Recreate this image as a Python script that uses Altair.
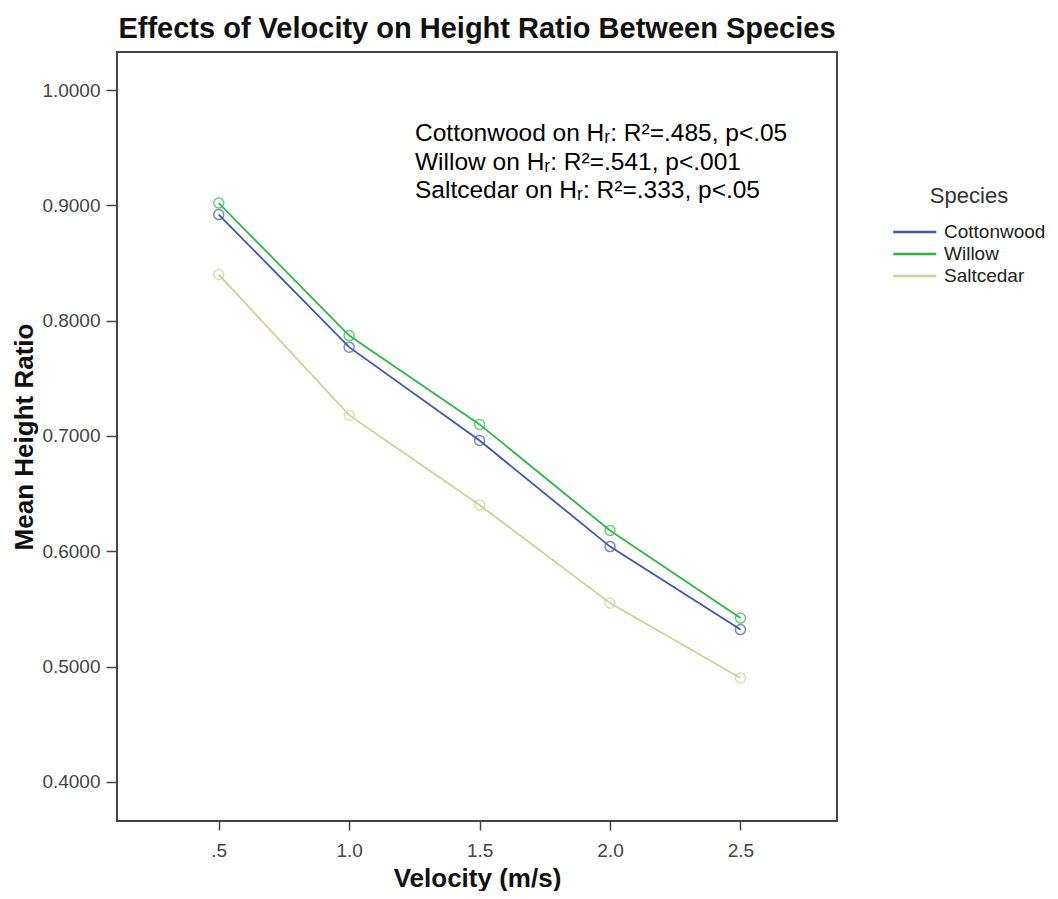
import altair as alt
import pandas as pd

velocity = [0.5, 1.0, 1.5, 2.0, 2.5]
cottonwood = [0.892, 0.777, 0.696, 0.604, 0.532]
willow = [0.902, 0.787, 0.710, 0.618, 0.542]
saltcedar = [0.840, 0.718, 0.640, 0.555, 0.490]
species = ["Cottonwood", "Willow", "Saltcedar"]
colors = ["#3E58AC", "#2EB848", "#D3CE97"]
x_ticks = [0.5, 1.0, 1.5, 2.0, 2.5]
y_ticks = [0.4, 0.5, 0.6, 0.7, 0.8, 0.9, 1.0]
annotation = [
    "Cottonwood on Hᵣ: R²=.485, p<.05",
    "Willow on Hᵣ: R²=.541, p<.001",
    "Saltcedar on Hᵣ: R²=.333, p<.05",
]

rows = []
for name, vals in zip(species, [cottonwood, willow, saltcedar]):
    for v, h in zip(velocity, vals):
        rows.append({"Velocity": v, "Ratio": h, "Species": name})
df = pd.DataFrame(rows)

FONT = "Liberation Sans"

x = alt.X(
    "Velocity:Q",
    scale=alt.Scale(domain=[0.11, 2.87], nice=False, zero=False),
    axis=alt.Axis(
        values=x_ticks,
        labelExpr="datum.value == 0.5 ? '.5' : format(datum.value, '.1f')",
        title="Velocity (m/s)",
        grid=False,
        tickSize=9,
        tickColor="#444",
        tickWidth=1.5,
        domain=False,
        labelFont=FONT,
        labelFontSize=19,
        labelColor="#444",
        labelPadding=11,
        titleFont=FONT,
        titleFontSize=26,
        titleFontWeight="bold",
        titleColor="#111",
        titlePadding=5,
    ),
)
y = alt.Y(
    "Ratio:Q",
    scale=alt.Scale(domain=[0.366, 1.033], nice=False, zero=False),
    axis=alt.Axis(
        values=y_ticks,
        format=".4f",
        title="Mean Height Ratio",
        grid=False,
        tickSize=11,
        tickColor="#444",
        tickWidth=1.5,
        domain=False,
        labelFont=FONT,
        labelFontSize=19,
        labelColor="#444",
        labelPadding=6,
        titleFont=FONT,
        titleFontSize=26,
        titleFontWeight="bold",
        titleColor="#111",
        titlePadding=4,
    ),
)
color = alt.Color(
    "Species:N",
    scale=alt.Scale(domain=species, range=colors),
    sort=species,
    legend=alt.Legend(
        title="Species",
        orient="none",
        legendX=775,
        legendY=134,
        symbolType="M-1,0L3,0",
        symbolSize=462,
        symbolStrokeWidth=2.5,
        titleFont=FONT,
        titleFontSize=22,
        titleFontWeight="normal",
        titleColor="#333",
        titleAnchor="middle",
        titlePadding=12,
        labelFont=FONT,
        labelFontSize=19,
        labelColor="#222",
        labelOffset=28,
        rowPadding=-4,
    ),
)

base = alt.Chart(df)
lines = base.mark_line(strokeWidth=1.8).encode(x=x, y=y, color=color)
points = base.mark_point(filled=False, size=100, strokeWidth=1.5).encode(
    x=x, y=y, color=alt.Color("Species:N", scale=alt.Scale(domain=species, range=colors), legend=None)
)
text = alt.Chart(pd.DataFrame({"k": [0]})).mark_text(
    text=annotation,
    align="left",
    baseline="alphabetic",
    font=FONT,
    fontSize=24.5,
    lineHeight=28.5,
    color="#000",
).encode(x=alt.value(298), y=alt.value(89))

chart = (
    alt.layer(lines, points, text)
    .properties(
        width=720,
        height=769,
        title=alt.TitleParams(
            "Effects of Velocity on Height Ratio Between Species",
            font=FONT,
            fontSize=29,
            fontWeight="bold",
            color="#111",
            anchor="middle",
            offset=8,
        ),
        autosize=alt.AutoSizeParams(type="none"),
        padding={"left": 109, "top": 44, "right": 210, "bottom": 70},
    )
    .configure_view(stroke="#444", strokeWidth=2)
)

chart.save("out.html", embed_options={"renderer": "svg", "actions": False})
